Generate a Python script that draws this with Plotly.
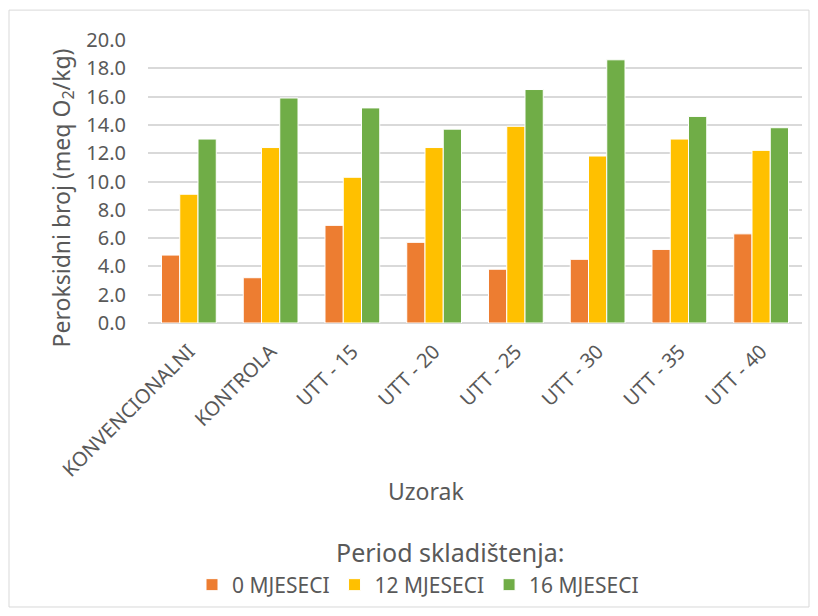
"""Peroxide value by sample and storage period."""

import plotly.graph_objects as go

uzorci = ["KONVENCIONALNI", "KONTROLA", "UTT - 15", "UTT - 20",
          "UTT - 25", "UTT - 30", "UTT - 35", "UTT - 40"]
mjeseci_0 = [4.8, 3.2, 6.9, 5.7, 3.8, 4.5, 5.2, 6.3]
mjeseci_12 = [9.1, 12.4, 10.3, 12.4, 13.9, 11.8, 13.0, 12.2]
mjeseci_16 = [13.0, 15.9, 15.2, 13.7, 16.5, 18.6, 14.6, 13.8]

serije = [
    ("0 MJESECI", mjeseci_0, "#ED7D31"),
    ("12 MJESECI", mjeseci_12, "#FFC000"),
    ("16 MJESECI", mjeseci_16, "#70AD47"),
]

# the page body has an 8px margin, so the figure starts at (8, 8)
OFF = 8
W, H = 818 - OFF, 616 - OFF
L, R, T, B = 148 - OFF, 16, 40 - OFF, 292
PW, PH = W - L - R, H - T - B


def px_x(x):
    return (x - OFF - L) / PW


def px_y(y):
    return (T + PH - (y - OFF)) / PH


FONT = "Noto Sans"
GREY = "#595959"

fig = go.Figure()
for ime, vrijednosti, boja in serije:
    fig.add_trace(go.Bar(
        x=uzorci, y=vrijednosti, name=ime,
        marker=dict(color=boja, line=dict(color="white", width=1)),
    ))

fig.update_layout(
    width=W, height=H,
    margin=dict(l=L, r=R, t=T, b=B),
    plot_bgcolor="white", paper_bgcolor="white",
    barmode="group", bargap=0.33, bargroupgap=0,
    font=dict(family=FONT, color=GREY, size=14),
    showlegend=True,
    legend=dict(
        orientation="h", x=px_x(418), xanchor="center",
        y=px_y(585), yanchor="middle",
        font=dict(size=21, color=GREY),
    ),
    xaxis=dict(
        tickangle=-45, tickfont=dict(size=20, color=GREY),
        showline=False, ticks="outside", ticklen=8,
        tickcolor="rgba(0,0,0,0)",
    ),
    yaxis=dict(
        range=[0, 20], dtick=2, tickformat=".1f",
        tickfont=dict(size=20, color=GREY),
        gridcolor="#D9D9D9", gridwidth=1.5,
        zeroline=True, zerolinecolor="#D9D9D9", zerolinewidth=1.5,
        ticks="", ticklabelstandoff=21,
    ),
    annotations=[
        dict(text="Peroksidni broj (meq O<sub>2</sub>/kg)", textangle=-90,
             xref="paper", yref="paper", x=px_x(62), y=px_y(199),
             xanchor="center", yanchor="middle", showarrow=False,
             font=dict(size=23, color=GREY)),
        dict(text="Uzorak", xref="paper", yref="paper",
             x=px_x(426), y=px_y(493), xanchor="center", yanchor="middle",
             showarrow=False, font=dict(size=23, color=GREY)),
        dict(text="Period skladištenja:", xref="paper", yref="paper",
             x=px_x(450), y=px_y(554), xanchor="center", yanchor="middle",
             showarrow=False, font=dict(size=25, color=GREY)),
    ],
    shapes=[
        dict(type="rect", xref="paper", yref="paper",
             x0=px_x(9), x1=px_x(809), y0=px_y(609), y1=px_y(10),
             line=dict(color="#D9D9D9", width=1)),
    ],
)

fig.write_html("out.html")
